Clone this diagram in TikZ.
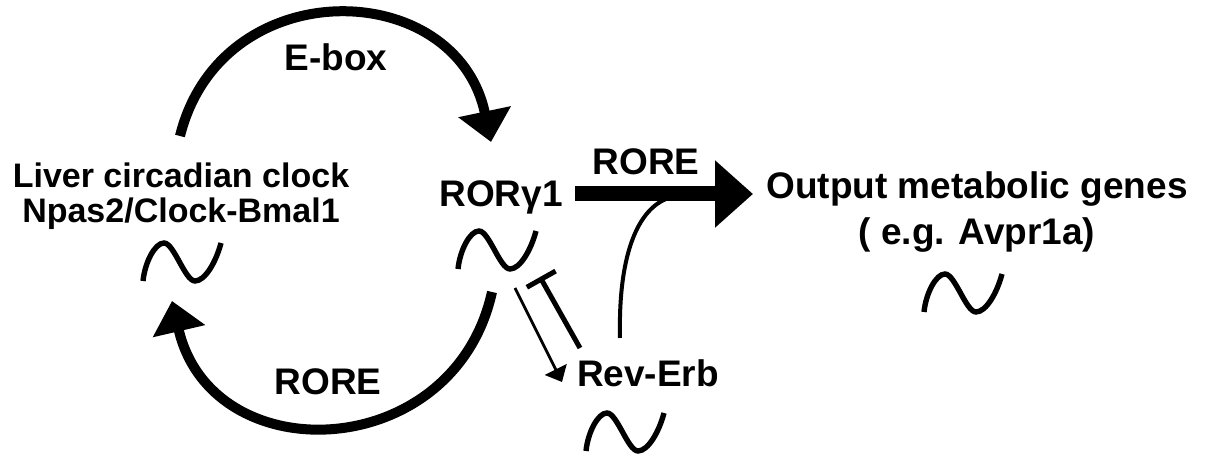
\documentclass[tikz,border=0pt]{standalone}
\usepackage{fontspec}
\setmainfont{Liberation Sans}
\usetikzlibrary{arrows.meta}
\newcommand{\clockfont}{\bfseries\fontsize{17}{17.5}\selectfont}
\newcommand{\genefont}{\bfseries\fontsize{18.5}{23}\selectfont}
\tikzset{
  wave/.pic={
    \draw[line width=2.7pt] (-39,19) .. controls (-37,0) and (-27,-19) .. (-18,-19)
      .. controls (-8,-19) and (3,19) .. (13,19)
      .. controls (23,19) and (34,0) .. (39,-19);
  }
}
\begin{document}
\begin{tikzpicture}[x=0.5pt,y=-0.5pt,
    gene/.style={font=\genefont,inner sep=0pt},
    clocktext/.style={font=\clockfont,align=center,inner sep=0pt},
    loop/.style={line width=5pt,-{Triangle[length=15.5pt,width=26pt]}},
    thin/.style={line width=1.35pt,-{Triangle[length=7pt,width=12pt]}},
    block/.style={line width=2.5pt,-{Bar[width=16.5pt]}}
]
\useasboundingbox (0,0) rectangle (1207,458);

% labels
\node[clocktext,anchor=north] (clock) at (181,162) {Liver circadian clock\\Npas2/Clock-Bmal1};
\node[gene,anchor=base] (ror) at (501,207) {RORγ1};
\node[gene,anchor=base] (rev) at (648,387) {Rev-Erb};
\node[gene,align=center,anchor=north] (output) at (977,171) {Output metabolic genes\\( e.g. Avpr1a)};
\node[gene,anchor=base] (eboxlab) at (336,71) {E-box};
\node[gene,anchor=base] (rorelow) at (328,395) {RORE};
\node[gene,anchor=base] (roreup) at (646,175) {RORE};

% waves
\pic (clockwave) at (182,262) {wave};
\pic (rorwave) at (497,250) {wave};
\pic (revwave) at (625,432) {wave};
\pic (outwave) at (963,293) {wave};

% ends of the connectors
\coordinate (topstart) at (180,136);
\coordinate (topend) at (491,142);
\coordinate (botstart) at (492,292);
\coordinate (botend) at (172,301);
\coordinate (bigstart) at (575,194);
\coordinate (bigend) at (753,194);
\coordinate (actstart) at (515,288);
\coordinate (actend) at (562,382);
\coordinate (inhstart) at (580,348);
\coordinate (inhend) at (540,277);
\coordinate (revstart) at (620,338);
\coordinate (revend) at (672,197);

% connectors
\draw[loop] (topstart) .. controls (221,-29) and (456,-24) .. (topend);
\draw[loop] (botstart) .. controls (454,464) and (212,473) .. (botend);
\draw[line width=7.5pt,-{Triangle[length=19pt,width=32.5pt]}] (bigstart) -- (bigend);
\draw[thin] (actstart) -- (actend);
\draw[block] (inhstart) -- (inhend);
\draw[line width=2pt] (revstart) .. controls (618,250) and (640,205) .. (revend);

\end{tikzpicture}
\end{document}
